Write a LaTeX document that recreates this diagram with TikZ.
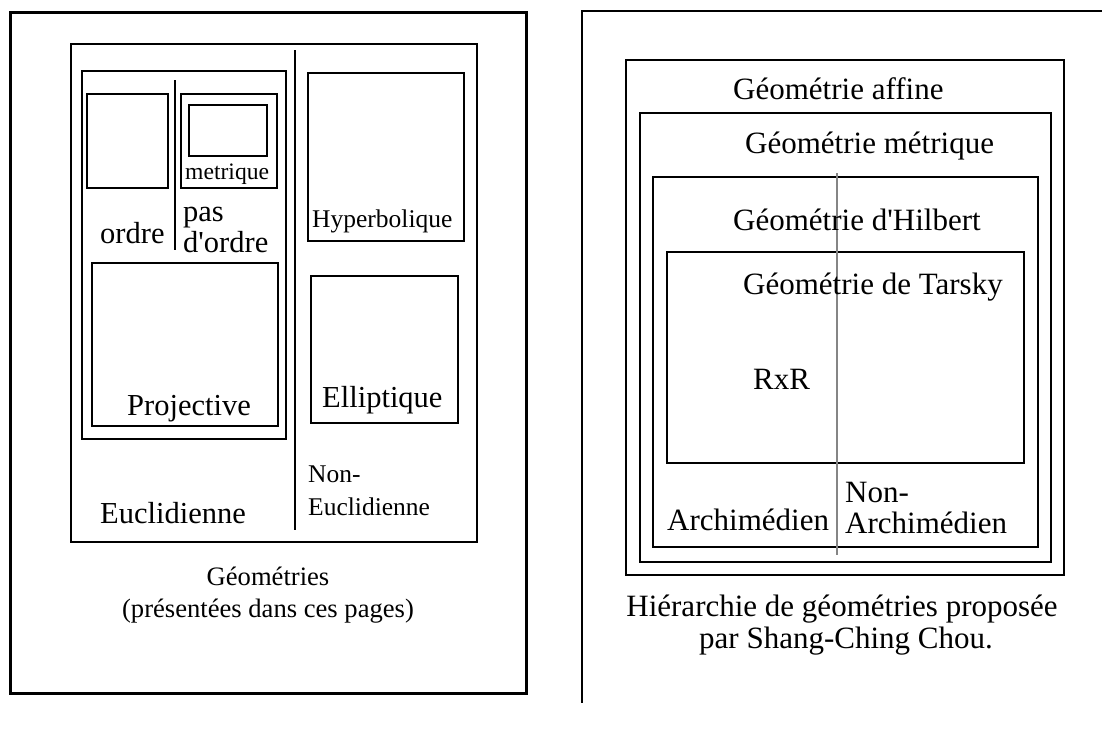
\documentclass[tikz,border=0pt]{standalone}
\usepackage{fontspec}
\setmainfont{Liberation Serif}
\newcommand\setfs[1]{\fontsize{#1}{#1}\selectfont}
\tikzset{
  frame/.style={draw=black, line width=3pt},
  box/.style={draw=black, line width=2.2pt},
  thin/.style={draw=black, line width=1.3pt},
  sep/.style={draw=black, line width=2.6pt},
  graysep/.style={draw=black!48, line width=2.2pt},
  big/.style={inner sep=0pt, font=\setfs{30.5}},
  rbig/.style={inner sep=0pt, font=\setfs{31}},
  mid/.style={inner sep=0pt, font=\setfs{25.5}},
  capt/.style={inner sep=0pt, font=\setfs{26.6}},
  small/.style={inner sep=0pt, font=\setfs{23.6}},
}
\begin{document}
\begin{tikzpicture}[x=1pt,y=-1pt]
\useasboundingbox[fill=white] (0,0) rectangle (1102,731);
% ---------- left diagram ----------
\draw[frame] (10,12) rectangle (526,693);
\draw[box] (71,44) rectangle (477,542);
\draw[box] (82,71) rectangle (286,439);
\draw[box] (87,94) rectangle (168,188);
\draw[box] (181,94) rectangle (277,188);
\draw[box] (189,105) rectangle (267,156);
\draw[box] (92,263) rectangle (278,426);
\draw[box] (308,73) rectangle (464,241);
\draw[box] (311,276) rectangle (458,423);
\coordinate (s1a) at (175,80);
\coordinate (s1b) at (175,250);
\draw[sep] (s1a) -- (s1b);
\coordinate (s2a) at (295,50);
\coordinate (s2b) at (295,530);
\draw[sep] (s2a) -- (s2b);
\node[small, anchor=base west] (metr) at (185,179) {metrique};
\node[big, anchor=base west] (ordre) at (100,243) {ordre};
\node[big, anchor=base west] (pas) at (183,221) {pas};
\node[big, anchor=base west] (dordre) at (183,252) {d\textquotesingle ordre};
\node[mid, anchor=base west] (hyp) at (312,227) {Hyperbolique};
\node[big, anchor=base west] (proj) at (127,415) {Projective};
\node[big, anchor=base west] (ell) at (322,407) {Elliptique};
\node[big, anchor=base west] (eucl) at (100,523) {Euclidienne};
\node[mid, anchor=base west] (non1) at (308,482) {Non-};
\node[mid, anchor=base west] (neucl) at (308,515) {Euclidienne};
\node[capt, anchor=base] (cap1) at (268,585) {Géométries};
\node[capt, anchor=base] (cap2) at (268,617) {(présentées dans ces pages)};
% ---------- right diagram ----------
\coordinate (ta) at (582,11);
\coordinate (tb) at (1102,11);
\coordinate (tc) at (582,703);
\draw[thin] (tb) -- (ta) -- (tc);
\draw[box] (626,60) rectangle (1064,575);
\draw[box] (640,113) rectangle (1051,562);
\draw[box] (653,177) rectangle (1038,547);
\draw[box] (667,252) rectangle (1024,463);
\coordinate (ga) at (837,173);
\coordinate (gb) at (837,555);
\draw[graysep] (ga) -- (gb);
\node[rbig, anchor=base west] (aff) at (733,99) {Géométrie affine};
\node[rbig, anchor=base west] (met) at (745,153) {Géométrie métrique};
\node[rbig, anchor=base west] (hil) at (733,230) {Géométrie d\textquotesingle Hilbert};
\node[rbig, anchor=base west] (tar) at (743,294) {Géométrie de Tarsky};
\node[rbig, anchor=base west] (rxr) at (753,389) {RxR};
\node[rbig, anchor=base west] (arch) at (667,530) {Archimédien};
\node[rbig, anchor=base west] (non2) at (845,502) {Non-};
\node[rbig, anchor=base west] (narch) at (845,533) {Archimédien};
\node[rbig, anchor=base] (cap3) at (842,616) {Hiérarchie de géométries proposée};
\node[rbig, anchor=base] (cap4) at (846,648) {par Shang-Ching Chou.};
\end{tikzpicture}
\end{document}
